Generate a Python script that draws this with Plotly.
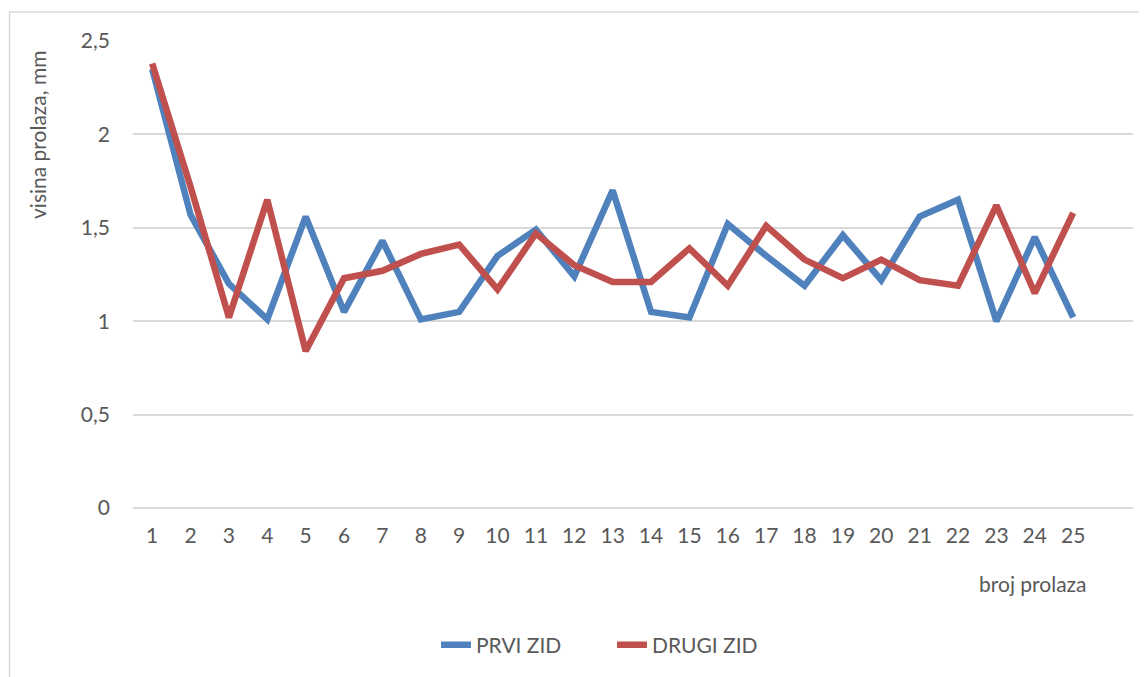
import plotly.graph_objects as go

passes = list(range(1, 26))
prvi_zid = [2.35, 1.57, 1.20, 1.01, 1.56, 1.05, 1.43, 1.01, 1.05, 1.35,
            1.49, 1.24, 1.70, 1.05, 1.02, 1.52, 1.35, 1.19, 1.46, 1.22,
            1.56, 1.65, 1.00, 1.45, 1.02]
drugi_zid = [2.38, 1.72, 1.02, 1.65, 0.84, 1.23, 1.27, 1.36, 1.41, 1.17,
             1.47, 1.30, 1.21, 1.21, 1.39, 1.19, 1.51, 1.33, 1.23, 1.33,
             1.22, 1.19, 1.62, 1.15, 1.58]
y_ticks = [0, 0.5, 1, 1.5, 2, 2.5]

FONT = "Lato, Carlito, Calibri, sans-serif"
GREY = "#595959"
OFF = 8  # page body margin

L, T = 133 - OFF, 41 - OFF
R_EDGE, B_EDGE = 1133 - OFF, 508 - OFF
W, H = 1147, 677
PW, PH = R_EDGE - L, B_EDGE - T


def px_x(p):
    return (p - OFF - L) / PW


def px_y(p):
    return (B_EDGE - (p - OFF)) / PH


fig = go.Figure()
fig.add_trace(go.Scatter(x=passes, y=prvi_zid, mode="lines", name="PRVI ZID",
                         line=dict(color="#4F81BD", width=6.5), legend="legend"))
fig.add_trace(go.Scatter(x=passes, y=drugi_zid, mode="lines", name="DRUGI ZID",
                         line=dict(color="#C0504D", width=6.5), legend="legend2"))

leg_common = dict(orientation="h", yanchor="middle", xanchor="left",
                  font=dict(family=FONT, size=21, color=GREY),
                  bgcolor="rgba(0,0,0,0)", borderwidth=0)

fig.update_layout(
    width=W, height=H,
    margin=dict(l=L, r=W - R_EDGE, t=T, b=H - B_EDGE),
    paper_bgcolor="white", plot_bgcolor="white",
    separators=", ",
    font=dict(family=FONT, size=21, color=GREY),
    showlegend=True,
    legend=dict(x=px_x(436), y=px_y(645), **leg_common),
    legend2=dict(x=px_x(612), y=px_y(645), **leg_common),
    xaxis=dict(range=[0.5, 26.56], tickmode="array", tickvals=passes,
               ticktext=[str(p) for p in passes], showgrid=False, zeroline=False,
               showline=False, ticks="", ticklabelstandoff=13,
               tickfont=dict(family=FONT, size=21, color=GREY)),
    yaxis=dict(range=[0, 2.5], tickmode="array", tickvals=y_ticks,
               ticktext=["0", "0,5", "1", "1,5", "2", "2,5"],
               showgrid=True, gridcolor="#D9D9D9", gridwidth=1.5,
               zeroline=True, zerolinecolor="#D9D9D9", zerolinewidth=1.5,
               showline=False, ticks="", ticklabelstandoff=22,
               tickfont=dict(family=FONT, size=21, color=GREY)),
)

fig.add_annotation(text="visina prolaza, mm", xref="paper", yref="paper",
                   x=px_x(38), y=px_y(135), textangle=-90,
                   showarrow=False, xanchor="center", yanchor="middle",
                   font=dict(family=FONT, size=21, color=GREY))
fig.add_annotation(text="broj prolaza", xref="paper", yref="paper",
                   x=px_x(1089), y=px_y(583),
                   showarrow=False, xanchor="right", yanchor="middle",
                   font=dict(family=FONT, size=21, color=GREY))

# chart frame (left and top visible)
fig.add_shape(type="rect", xref="paper", yref="paper",
              x0=px_x(9.5), x1=px_x(1170),
              y0=px_y(700), y1=px_y(12),
              line=dict(color="#D9D9D9", width=1.5), fillcolor="rgba(0,0,0,0)",
              layer="below")

fig.write_html("out.html")
